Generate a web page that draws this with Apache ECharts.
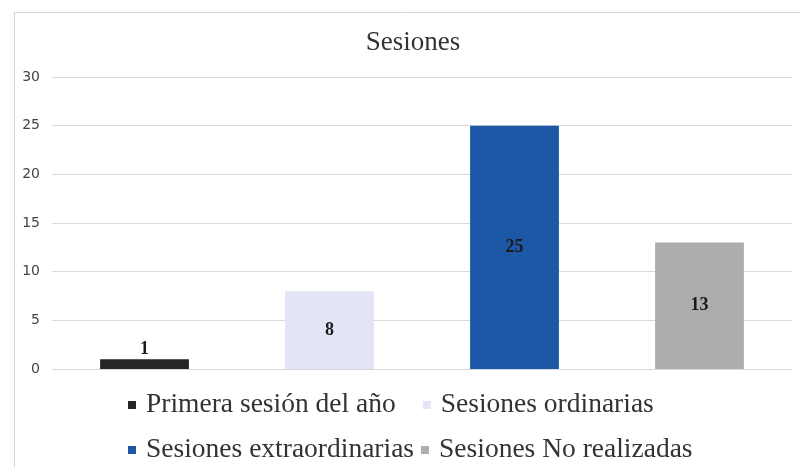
<!DOCTYPE html>
<html>
<head>
<meta charset="utf-8">
<script src="https://cdn.jsdelivr.net/npm/echarts@6/dist/echarts.min.js"></script>
<style>
html,body{margin:0;padding:0;background:#fff;}
#c{width:800px;height:467px;}
</style>
</head>
<body>
<div id="c"></div>
<script>
var title = 'Sesiones';
var categories = ['Primera sesión del año', 'Sesiones ordinarias', 'Sesiones extraordinarias', 'Sesiones No realizadas'];
var values = [1, 8, 25, 13];
var colors = ['#262626', '#e3e5f7', '#1d58a6', '#adadad'];
var yTicks = { min: 0, max: 30, interval: 5 };

var serif = '"Liberation Serif", "DejaVu Serif", serif';

var series = categories.map(function (name, i) {
  var data = categories.map(function (c, j) { return j === i ? values[i] : '-'; });
  return {
    name: name,
    type: 'bar',
    stack: 'all',
    barWidth: '48%',
    data: data,
    itemStyle: { color: colors[i] },
    label: {
      show: true,
      position: values[i] < 3 ? 'top' : 'inside',
      distance: 1,
      color: '#1a1a1a',
      fontFamily: serif,
      fontWeight: 'bold',
      fontSize: 18
    }
  };
});

function legendRow(names, top, gap) {
  return {
    left: 128,
    top: top,
    padding: 0,
    itemGap: gap,
    icon: 'rect',
    itemWidth: 8,
    itemHeight: 8,
    textStyle: { fontFamily: serif, fontSize: 27.5, color: '#333333', padding: [0, 0, 0, 5] },
    data: names
  };
}

var chart = echarts.init(document.getElementById('c'));
chart.setOption({
  animation: false,
  backgroundColor: '#ffffff',
  title: {
    text: title,
    left: 408,
    textAlign: 'center',
    top: 24,
    textStyle: { fontFamily: serif, fontWeight: 'normal', fontSize: 27, color: '#333333' }
  },
  graphic: [{
    type: 'rect',
    left: 12, top: 10,
    shape: { width: 800, height: 480 },
    style: { fill: 'none', stroke: '#d6d6d6', lineWidth: 1 },
    silent: true
  }],
  grid: { left: 52, right: 8, top: 77, bottom: 98 },
  legend: [
    legendRow(categories.slice(0, 2), 391, 27),
    legendRow(categories.slice(2, 4), 436, 7)
  ],
  xAxis: {
    type: 'category',
    data: categories,
    axisLine: { show: false },
    axisTick: { show: false },
    axisLabel: { show: false }
  },
  yAxis: {
    type: 'value',
    min: yTicks.min,
    max: yTicks.max,
    interval: yTicks.interval,
    axisLine: { show: false },
    axisTick: { show: false },
    axisLabel: { margin: 12, fontSize: 14, color: '#444444', fontFamily: '"DejaVu Sans", sans-serif' },
    splitLine: { lineStyle: { color: '#d9d9d9', width: 1 } }
  },
  series: series
});
</script>
</body>
</html>
